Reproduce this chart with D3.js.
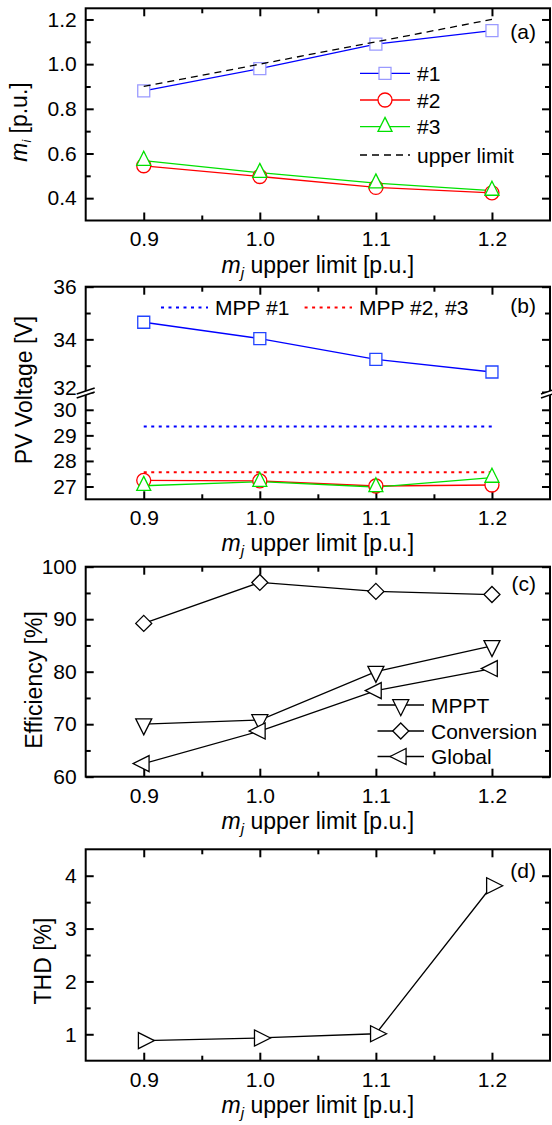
<!DOCTYPE html>
<html>
<head>
<meta charset="utf-8">
<script src="https://d3js.org/d3.v7.min.js"></script>
<style>
  body { margin: 0; background: #fff; }
</style>
</head>
<body>
<svg id="fig" width="552" height="1125"></svg>
<script>
// x values shared by all four panels
const mLimit = [0.9, 1.0, 1.1, 1.2];
const xMajor = [0.9, 1.0, 1.1, 1.2];
const xMinor = [0.95, 1.05, 1.15];

// (a) modulation index per inverter
const mi1 = [0.88, 0.98, 1.09, 1.15];
const mi2 = [0.545, 0.497, 0.448, 0.424];
const mi3 = [0.568, 0.514, 0.467, 0.434];
const upperLimit = [0.9, 1.0, 1.1, 1.2];

// (b) PV voltage
const pv1 = [34.65, 34.03, 33.24, 32.76];
const pv2 = [27.24, 27.22, 27.02, 27.06];
const pv3 = [27.03, 27.19, 26.98, 27.35];
const mpp1 = 29.35;
const mpp23 = 27.56;

// (c) efficiency
const effMPPT = [70.0, 70.8, 80.0, 84.9];
const effConv = [89.2, 97.0, 95.3, 94.7];
const effGlobal = [62.5, 68.7, 76.4, 80.6];

// (d) THD
const thd = [0.88, 0.93, 1.01, 3.81];

const FONT = "'Liberation Sans', Arial, Helvetica, sans-serif";
const L = 85.7, R = 550;
const svg = d3.select("#fig");
const x = d3.scaleLinear().domain([0.85, 1.25]).range([L, R]);
const f1 = d3.format(".1f");

function styleAxis(g, size) {
  g.select(".domain").remove();
  g.attr("font-family", FONT).attr("font-size", size || 21);
  g.selectAll(".tick line").attr("stroke", "#000").attr("stroke-width", 2);
  g.selectAll(".tick text").attr("fill", "#000");
}

function xAxes(top, bottom) {
  svg.append("g").attr("transform", `translate(0,${bottom})`)
    .call(d3.axisBottom(x).tickValues(xMajor).tickFormat(f1).tickSize(-8).tickPadding(11))
    .call(styleAxis);
  svg.append("g").attr("transform", `translate(0,${bottom})`)
    .call(d3.axisBottom(x).tickValues(xMinor).tickFormat("").tickSize(-5))
    .call(styleAxis);
  svg.append("g").attr("transform", `translate(0,${top})`)
    .call(d3.axisTop(x).tickValues(xMajor).tickFormat("").tickSize(-8))
    .call(styleAxis);
  svg.append("g").attr("transform", `translate(0,${top})`)
    .call(d3.axisTop(x).tickValues(xMinor).tickFormat("").tickSize(-5))
    .call(styleAxis);
}

function yAxes(y, major, minor, fmt) {
  const g = svg.append("g").attr("transform", `translate(${L},0)`)
    .call(d3.axisLeft(y).tickValues(major).tickFormat(fmt).tickSize(-8).tickPadding(9))
    .call(styleAxis);
  svg.append("g").attr("transform", `translate(${L},0)`)
    .call(d3.axisLeft(y).tickValues(minor).tickFormat("").tickSize(-5))
    .call(styleAxis);
  svg.append("g").attr("transform", `translate(${R},0)`)
    .call(d3.axisRight(y).tickValues(major).tickFormat("").tickSize(-8))
    .call(styleAxis);
  svg.append("g").attr("transform", `translate(${R},0)`)
    .call(d3.axisRight(y).tickValues(minor).tickFormat("").tickSize(-5))
    .call(styleAxis);
  return g;
}

function frame(top, bottom) {
  svg.append("rect")
    .attr("x", L).attr("y", top)
    .attr("width", R - L).attr("height", bottom - top)
    .attr("fill", "none").attr("stroke", "#000").attr("stroke-width", 2);
}

function xTitle(bottom) {
  const t = svg.append("text")
    .attr("x", (L + R) / 2).attr("y", bottom + 52)
    .attr("text-anchor", "middle")
    .attr("font-family", FONT).attr("font-size", 23);
  t.append("tspan").attr("font-style", "italic").text("m");
  t.append("tspan").attr("font-style", "italic").attr("font-size", 15).attr("dy", 5).text("j");
  t.append("tspan").attr("dy", -5).text(" upper limit [p.u.]");
}

function yTitle(xPos, yPos, label) {
  return svg.append("text")
    .attr("transform", `translate(${xPos},${yPos}) rotate(-90)`)
    .attr("text-anchor", "middle")
    .attr("font-family", FONT).attr("font-size", 23)
    .text(label);
}

function panelLabel(yPos, label) {
  svg.append("text")
    .attr("x", 536).attr("y", yPos)
    .attr("text-anchor", "end")
    .attr("font-family", FONT).attr("font-size", 21)
    .text(label);
}

function markerPath(type, s) {
  const a = s / 2, t = s / 3;
  if (type === "square") return `M${-a},${-a}H${a}V${a}H${-a}Z`;
  if (type === "up") return `M0,${-2 * t}L${a},${t}L${-a},${t}Z`;
  if (type === "down") return `M0,${2 * t}L${a},${-t}L${-a},${-t}Z`;
  if (type === "left") return `M${-2 * t},0L${t},${-a}L${t},${a}Z`;
  if (type === "right") return `M${2 * t},0L${-t},${-a}L${-t},${a}Z`;
  if (type === "diamond") return `M0,${-a}L${a},0L0,${a}L${-a},0Z`;
  const p = d3.path();
  p.arc(0, 0, a, 0, 2 * Math.PI);
  p.closePath();
  return p.toString();
}

function drawLine(y, vals, color, dash, width) {
  svg.append("path")
    .datum(vals)
    .attr("d", d3.line().x((d, i) => x(mLimit[i])).y(d => y(d)))
    .attr("fill", "none")
    .attr("stroke", color)
    .attr("stroke-width", width || 1.3)
    .attr("stroke-dasharray", dash || null);
}

function drawMarkers(y, vals, color, type, size) {
  svg.append("g").selectAll("path")
    .data(vals)
    .join("path")
    .attr("transform", (d, i) => `translate(${x(mLimit[i])},${y(d)})`)
    .attr("d", markerPath(type, size))
    .attr("fill", "#fff")
    .attr("stroke", color)
    .attr("stroke-width", 1.3);
}

function legendRow(x1, x2, yPos, color, dash, type, size, mColor, label, width) {
  svg.append("line")
    .attr("x1", x1).attr("x2", x2).attr("y1", yPos).attr("y2", yPos)
    .attr("stroke", color).attr("stroke-width", width || 1.3)
    .attr("stroke-dasharray", dash || null);
  if (type) {
    svg.append("path")
      .attr("transform", `translate(${(x1 + x2) / 2},${yPos})`)
      .attr("d", markerPath(type, size))
      .attr("fill", "#fff").attr("stroke", mColor).attr("stroke-width", 1.3);
  }
  svg.append("text")
    .attr("x", x2 + 7).attr("y", yPos).attr("dy", "0.36em")
    .attr("font-family", FONT).attr("font-size", 21)
    .text(label);
}

const BLUE = "#0000ff", LIGHTBLUE = "#9a9aff", RED = "#ff0000", GREEN = "#00e000";

// ---------------- panel (a)
{
  const top = 8.3, bottom = 220.5;
  const y = d3.scaleLinear().domain([0.3, 1.25]).range([bottom, top]);
  xAxes(top, bottom);
  yAxes(y, [0.4, 0.6, 0.8, 1.0, 1.2], [0.5, 0.7, 0.9, 1.1], f1);
  frame(top, bottom);
  drawLine(y, mi1, BLUE);
  drawLine(y, mi2, RED);
  drawLine(y, mi3, GREEN);
  drawMarkers(y, mi1, LIGHTBLUE, "square", 12);
  drawMarkers(y, mi2, RED, "circle", 14);
  drawMarkers(y, mi3, GREEN, "up", 14);
  drawLine(y, upperLimit, "#000", "7,5");

  legendRow(360, 410, 73.3, BLUE, null, "square", 12, LIGHTBLUE, "#1");
  legendRow(360, 410, 100, RED, null, "circle", 14, RED, "#2");
  legendRow(360, 410, 126.7, GREEN, null, "up", 14, GREEN, "#3");
  legendRow(360, 410, 155, "#000", "7,5", null, 0, null, "upper limit");

  xTitle(bottom);
  const t = svg.append("text")
    .attr("transform", "translate(27,122) rotate(-90)")
    .attr("text-anchor", "middle")
    .attr("font-family", FONT).attr("font-size", 23);
  t.append("tspan").attr("font-style", "italic").text("m");
  t.append("tspan").attr("font-style", "italic").attr("font-size", 12).attr("dy", 4).text("i");
  t.append("tspan").attr("dy", -4).text(" [p.u.]");
  panelLabel(39, "(a)");
}

// ---------------- panel (b) with broken y axis
{
  const top = 286.7, bottom = 499.3, breakY = 393;
  const yUp = d3.scaleLinear().domain([32, 36]).range([392, top]);
  const yLo = d3.scaleLinear().domain([26.5, 30.5]).range([bottom, 397]);
  xAxes(top, bottom);
  const gUp = yAxes(yUp, [32, 34, 36], [33, 35], d3.format("d"));
  // lift the "32" label a little so it clears "30" below the break
  gUp.selectAll(".tick text").filter(d => d === 32).attr("y", -4);
  yAxes(yLo, [27, 28, 29, 30], [27.5, 28.5, 29.5], d3.format("d"));
  frame(top, bottom);

  // axis break marks on both sides
  [L, R].forEach(cx => {
    svg.append("path")
      .attr("d", `M${cx - 9},${breakY + 1}L${cx + 9},${breakY - 5}L${cx + 9},${breakY - 1}L${cx - 9},${breakY + 5}Z`)
      .attr("fill", "#fff").attr("stroke", "none");
    [0, 4].forEach(off => {
      svg.append("line")
        .attr("x1", cx - 9).attr("y1", breakY + 1 + off)
        .attr("x2", cx + 9).attr("y2", breakY - 5 + off)
        .attr("stroke", "#000").attr("stroke-width", 1.5);
    });
  });

  drawLine(yLo, mLimit.map(() => mpp1), BLUE, "3,4.5", 2);
  drawLine(yLo, mLimit.map(() => mpp23), RED, "3,4.5", 2);
  drawLine(yUp, pv1, BLUE);
  drawLine(yLo, pv2, RED);
  drawLine(yLo, pv3, GREEN);
  drawMarkers(yUp, pv1, "#2244ff", "square", 12);
  drawMarkers(yLo, pv2, RED, "circle", 14);
  drawMarkers(yLo, pv3, GREEN, "up", 14);

  legendRow(161, 208, 307.5, BLUE, "3,4.5", null, 0, null, "MPP #1", 2);
  legendRow(304.6, 352, 307.5, RED, "3,4.5", null, 0, null, "MPP #2, #3", 2);

  xTitle(bottom);
  yTitle(31.5, 390, "PV Voltage [V]");
  panelLabel(313, "(b)");
}

// ---------------- panel (c)
{
  const top = 566.7, bottom = 776.7;
  const y = d3.scaleLinear().domain([60, 100]).range([bottom, top]);
  xAxes(top, bottom);
  yAxes(y, [60, 70, 80, 90, 100], [65, 75, 85, 95], d3.format("d"));
  frame(top, bottom);
  drawLine(y, effMPPT, "#000");
  drawLine(y, effConv, "#000");
  drawLine(y, effGlobal, "#000");
  drawMarkers(y, effMPPT, "#000", "down", 16);
  drawMarkers(y, effConv, "#000", "diamond", 16);
  drawMarkers(y, effGlobal, "#000", "left", 16);

  legendRow(377.5, 424, 705, "#000", null, "down", 16, "#000", "MPPT");
  legendRow(377.5, 424, 731, "#000", null, "diamond", 16, "#000", "Conversion");
  legendRow(377.5, 424, 756.5, "#000", null, "left", 16, "#000", "Global");

  xTitle(bottom);
  yTitle(42, 680, "Efficiency [%]");
  panelLabel(591, "(c)");
}

// ---------------- panel (d)
{
  const top = 849.3, bottom = 1060.7;
  const y = d3.scaleLinear().domain([0.5, 4.5]).range([bottom, top]);
  xAxes(top, bottom);
  yAxes(y, [1, 2, 3, 4], [1.5, 2.5, 3.5], d3.format("d"));
  frame(top, bottom);
  drawLine(y, thd, "#000");
  drawMarkers(y, thd, "#000", "right", 16);

  xTitle(bottom);
  yTitle(50.5, 961, "THD [%]");
  panelLabel(878, "(d)");
}
</script>
</body>
</html>
